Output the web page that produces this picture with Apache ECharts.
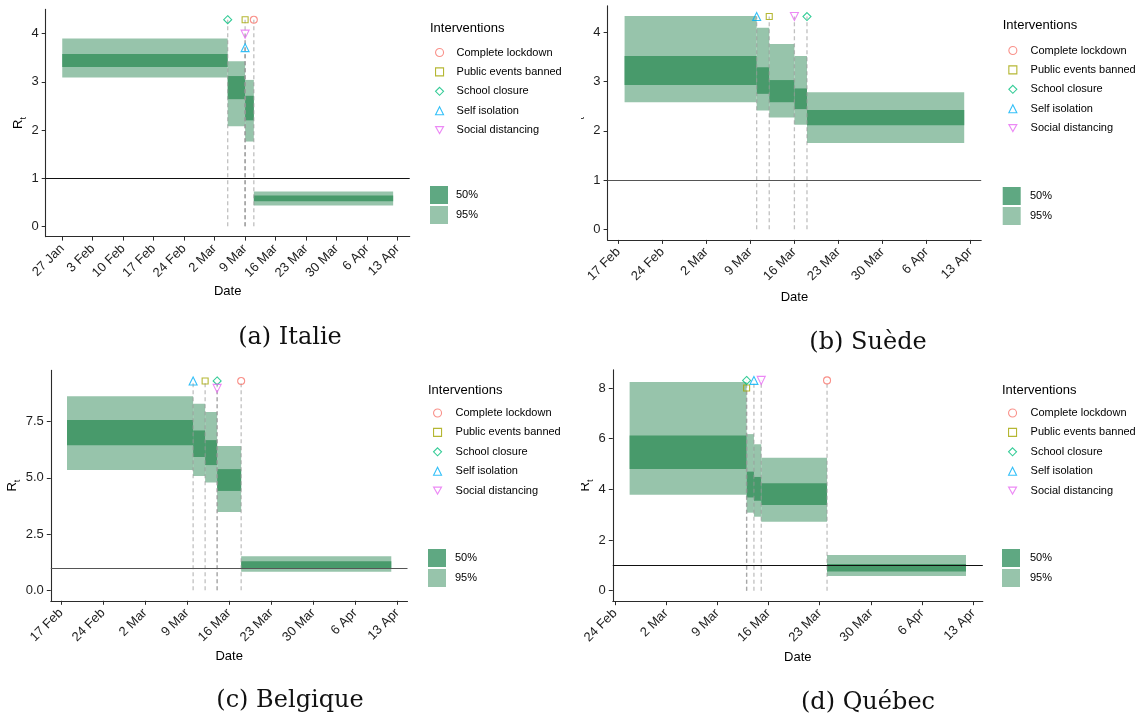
<!DOCTYPE html>
<html><head><meta charset="utf-8">
<script src="https://cdn.jsdelivr.net/npm/echarts@6/dist/echarts.min.js"></script>
<style>html,body{margin:0;padding:0;background:#fff}#c{width:1146px;height:725px}</style>
</head><body><div id="c"></div>
<script>
// ---------- DATA ----------
const interventionNames = ['Complete lockdown','Public events banned','School closure','Self isolation','Social distancing'];
const weekTickDates = ['2020-01-27','2020-02-03','2020-02-10','2020-02-17','2020-02-24','2020-03-02','2020-03-09','2020-03-16','2020-03-23','2020-03-30','2020-04-06','2020-04-13'];
const weekTickLabels = ['27 Jan','3 Feb','10 Feb','17 Feb','24 Feb','2 Mar','9 Mar','16 Mar','23 Mar','30 Mar','6 Apr','13 Apr'];

// Italie
const italyBreaks = ['2020-01-27','2020-03-05','2020-03-09','2020-03-11','2020-04-12'];
const italyLo95 = [3.09, 2.08, 1.76, 0.43];
const italyHi95 = [3.90, 3.43, 3.04, 0.72];
const italyLo50 = [3.31, 2.64, 2.20, 0.52];
const italyHi50 = [3.58, 3.12, 2.71, 0.64];
const italyEvents = ['School closure','Public events banned','Social distancing','Self isolation','Complete lockdown'];
const italyEventDates = ['2020-03-05','2020-03-09','2020-03-09','2020-03-09','2020-03-11'];
const italyEventY = [4.29, 4.29, 3.99, 3.71, 4.29];
const italyYTicks = [0, 1, 2, 3, 4];

// Suède
const swedenBreaks = ['2020-02-18','2020-03-10','2020-03-12','2020-03-16','2020-03-18','2020-04-12'];
const swedenLo95 = [2.58, 2.41, 2.27, 2.12, 1.75];
const swedenHi95 = [4.33, 4.09, 3.76, 3.52, 2.78];
const swedenLo50 = [2.93, 2.75, 2.58, 2.44, 2.11];
const swedenHi50 = [3.52, 3.29, 3.03, 2.86, 2.42];
const swedenEvents = ['Self isolation','Public events banned','Social distancing','School closure'];
const swedenEventDates = ['2020-03-10','2020-03-12','2020-03-16','2020-03-18'];
const swedenEventY = [4.32, 4.32, 4.32, 4.32];
const swedenYTicks = [0, 1, 2, 3, 4];

// Belgique
const belgiumBreaks = ['2020-02-18','2020-03-10','2020-03-12','2020-03-14','2020-03-18','2020-04-12'];
const belgiumLo95 = [5.35, 5.08, 4.79, 3.48, 0.83];
const belgiumHi95 = [8.63, 8.30, 7.93, 6.42, 1.51];
const belgiumLo50 = [6.45, 5.93, 5.57, 4.42, 0.95];
const belgiumHi50 = [7.57, 7.11, 6.68, 5.39, 1.29];
const belgiumEvents = ['Self isolation','Public events banned','School closure','Social distancing','Complete lockdown'];
const belgiumEventDates = ['2020-03-10','2020-03-12','2020-03-14','2020-03-14','2020-03-18'];
const belgiumEventY = [9.31, 9.31, 9.31, 8.98, 9.31];
const belgiumYTicks = [0, 2.5, 5, 7.5];

// Québec
const quebecBreaks = ['2020-02-26','2020-03-13','2020-03-14','2020-03-15','2020-03-24','2020-04-12'];
const quebecLo95 = [3.79, 3.08, 2.92, 2.72, 0.58];
const quebecHi95 = [8.24, 6.18, 5.78, 5.25, 1.41];
const quebecLo50 = [4.80, 3.68, 3.55, 3.38, 0.76];
const quebecHi50 = [6.13, 4.70, 4.49, 4.24, 1.05];
const quebecEvents = ['School closure','Public events banned','Self isolation','Social distancing','Complete lockdown'];
const quebecEventDates = ['2020-03-13','2020-03-13','2020-03-14','2020-03-15','2020-03-24'];
const quebecEventY = [8.30, 8.00, 8.30, 8.30, 8.30];
const quebecYTicks = [0, 2, 4, 6, 8];

const captions = ['(a) Italie', '(b) Suède', '(c) Belgique', '(d) Québec'];

// ---------- STYLE / LAYOUT ----------
const FONT = '"Liberation Sans", Arial, sans-serif';
const SERIF = '"DejaVu Serif", "Liberation Serif", serif';
const intColors = {'Complete lockdown':'#F8766D','Public events banned':'#A3A500','School closure':'#00BF7D','Self isolation':'#00B0F6','Social distancing':'#E76BF3'};
const intSymbols = {'Complete lockdown':'circle','Public events banned':'rect','School closure':'diamond','Self isolation':'triangle','Social distancing':'triangle'};
const intRotate = {'Complete lockdown':0,'Public events banned':0,'School closure':0,'Self isolation':0,'Social distancing':180};
const intSize = {'Complete lockdown':7,'Public events banned':6,'School closure':8,'Self isolation':8,'Social distancing':8};
const intLegendIcon = {'Social distancing':'path://M0,0L10,0L5,8.66Z'};
const C95 = '#97c4ab', C50 = '#489a6b', C50KEY = '#5fa882';

const DAY0 = Date.UTC(2020, 0, 1);
function dayNum(s){ const p = s.split('-').map(Number); return (Date.UTC(p[0], p[1]-1, p[2]) - DAY0) / 86400000; }

const panels = [
  {breaks: italyBreaks, lo95: italyLo95, hi95: italyHi95, lo50: italyLo50, hi50: italyHi50, ev: italyEvents, evd: italyEventDates, evy: italyEventY, yt: italyYTicks,
   grid: {left: 45.7, top: 9.4, width: 364, height: 227.2}, x: [22.2, 105.8], y: [-0.2145, 4.5045], yGap: 18, xGap: 48, hline: '#111',
   leg: {ix: 435, itx: 456, y: 45.5, tx: 430, title: 22, kx: 430, key: 186}, cap: [290, 338]},
  {breaks: swedenBreaks, lo95: swedenLo95, hi95: swedenHi95, lo50: swedenLo50, hi50: swedenHi50, ev: swedenEvents, evd: swedenEventDates, evy: swedenEventY, yt: swedenYTicks,
   grid: {left: 607.6, top: 5.9, width: 373.6, height: 234}, x: [45.3, 104.7], y: [-0.216, 4.536], yGap: 22, xGap: 51, hline: '#555',
   leg: {ix: 1008.3, itx: 1030, y: 43.5, tx: 1002.7, title: 19, kx: 1002.7, key: 187}, cap: [868, 343],
   cover: {x: 566, y: 60, width: 15, height: 130}},
  {breaks: belgiumBreaks, lo95: belgiumLo95, hi95: belgiumHi95, lo50: belgiumLo50, hi50: belgiumHi50, ev: belgiumEvents, evd: belgiumEventDates, evy: belgiumEventY, yt: belgiumYTicks,
   grid: {left: 50.8, top: 370.4, width: 356.7, height: 230.4}, x: [45.3, 104.7], y: [-0.466, 9.78], yGap: 29, xGap: 49, hline: '#555',
   leg: {ix: 433, itx: 455, y: 406, tx: 428, title: 384, kx: 428, key: 549}, cap: [290, 701]},
  {breaks: quebecBreaks, lo95: quebecLo95, hi95: quebecHi95, lo50: quebecLo50, hi50: quebecHi50, ev: quebecEvents, evd: quebecEventDates, evy: quebecEventY, yt: quebecYTicks,
   grid: {left: 612.8, top: 369.9, width: 370, height: 231.3}, x: [53.7, 104.3], y: [-0.415, 8.715], yGap: 16, xGap: 50, hline: '#111',
   leg: {ix: 1008, itx: 1030, y: 406, tx: 1002, title: 384, kx: 1002, key: 549}, cap: [868, 703],
   cover: {x: 566, y: 420, width: 15, height: 130}}
];

const tickDays = weekTickDates.map(dayNum);
function xLabel(v){ const i = tickDays.indexOf(Math.round(v)); return i >= 0 ? weekTickLabels[i] : ''; }

function bandRender(color){
  return function(params, api){
    const p1 = api.coord([api.value(0), api.value(3)]);
    const p2 = api.coord([api.value(1), api.value(2)]);
    return {type: 'rect', shape: {x: p1[0], y: p1[1], width: p2[0]-p1[0], height: p2[1]-p1[1]}, style: {fill: color}};
  };
}
function vlineRender(params, api){
  const a = api.coord([api.value(0), 0]);
  const b = api.coord([api.value(0), api.value(1)]);
  return {type: 'line', shape: {x1: a[0], y1: a[1], x2: b[0], y2: b[1]},
          style: {stroke: 'rgba(150,150,150,0.6)', lineWidth: 1.3, lineDash: [4, 3]}};
}

const grids = [], xAxes = [], yAxes = [], series = [], legends = [], titles = [], graphics = [];
panels.forEach((P, i) => {
  grids.push(Object.assign({outerBoundsMode: 'none', containLabel: false}, P.grid));
  const xt = tickDays.filter(d => d >= P.x[0] && d <= P.x[1]);
  xAxes.push({type: 'value', gridIndex: i, min: P.x[0], max: P.x[1],
    axisLine: {show: true, onZero: false, lineStyle: {color: '#2b2b2b', width: 1.1}},
    axisTick: {show: true, customValues: xt, length: 4, lineStyle: {color: '#2b2b2b', width: 1}},
    axisLabel: {show: true, customValues: xt, formatter: xLabel, rotate: 45, fontSize: 13, color: '#1e1e1e', fontFamily: FONT, margin: 10},
    splitLine: {show: false},
    name: 'Date', nameLocation: 'middle', nameGap: P.xGap,
    nameTextStyle: {fontSize: 13, color: '#000', fontFamily: FONT}});
  yAxes.push({type: 'value', gridIndex: i, min: P.y[0], max: P.y[1],
    axisLine: {show: true, onZero: false, lineStyle: {color: '#2b2b2b', width: 1.1}},
    axisTick: {show: true, customValues: P.yt, length: 4, lineStyle: {color: '#2b2b2b', width: 1}},
    axisLabel: {show: true, customValues: P.yt, fontSize: 13, color: '#1e1e1e', fontFamily: FONT, margin: 7,
      formatter: v => (i === 2 ? Number(v).toFixed(1) : String(Math.round(v)))},
    splitLine: {show: false},
    name: '{r|R}{t|t}', nameLocation: 'middle', nameGap: P.yGap,
    nameTextStyle: {fontFamily: FONT, color: '#000',
      rich: {r: {fontSize: 13, fontFamily: FONT, color: '#000', lineHeight: 18, verticalAlign: 'middle'},
             t: {fontSize: 9, fontFamily: FONT, color: '#000', lineHeight: 18, verticalAlign: 'bottom'}}}});

  const days = P.breaks.map(dayNum);
  const d95 = [], d50 = [];
  for (let k = 0; k < days.length - 1; k++) {
    d95.push([days[k], days[k+1], P.lo95[k], P.hi95[k]]);
    d50.push([days[k], days[k+1], P.lo50[k], P.hi50[k]]);
  }
  series.push({type: 'custom', name: '95%', xAxisIndex: i, yAxisIndex: i, z: 1, silent: true,
    itemStyle: {color: C95}, renderItem: bandRender(C95), encode: {x: [0, 1], y: [2, 3]}, data: d95});
  series.push({type: 'custom', name: '50%', xAxisIndex: i, yAxisIndex: i, z: 2, silent: true,
    itemStyle: {color: C50}, renderItem: bandRender(C50), encode: {x: [0, 1], y: [2, 3]}, data: d50,
    markLine: {silent: true, symbol: 'none', z: 5, label: {show: false}, animation: false,
      lineStyle: {color: P.hline, width: 1.1, type: 'solid'}, emphasis: {disabled: true},
      data: [{yAxis: 1}]}});
  const evDays = P.evd.map(dayNum);
  series.push({type: 'custom', name: 'vlines', xAxisIndex: i, yAxisIndex: i, z: 3, silent: true,
    renderItem: vlineRender, encode: {x: 0, y: 1}, data: evDays.map((d, k) => [d, P.evy[k]])});
  interventionNames.forEach(nm => {
    const pts = [];
    P.ev.forEach((e, k) => { if (e === nm) pts.push([evDays[k], P.evy[k]]); });
    series.push({type: 'scatter', name: nm, xAxisIndex: i, yAxisIndex: i, z: 6, silent: true,
      symbol: intSymbols[nm], symbolRotate: intRotate[nm], symbolSize: intSize[nm],
      itemStyle: {color: 'rgba(0,0,0,0)', borderColor: intColors[nm], borderWidth: 1.1},
      data: pts});
  });

  titles.push({text: 'Interventions', left: P.leg.tx, top: P.leg.title, padding: 0,
    textStyle: {fontSize: 13, fontWeight: 'normal', color: '#000', fontFamily: FONT}});
  legends.push({orient: 'vertical', left: P.leg.ix, top: P.leg.y, padding: 0, itemGap: 5.4,
    itemWidth: 8, itemHeight: 8, selectedMode: false,
    textStyle: {fontSize: 11, color: '#000', fontFamily: FONT, lineHeight: 14, padding: [0, 0, 0, P.leg.itx - P.leg.ix - 13]},
    data: interventionNames.map(nm => {
      const item = {name: nm, itemStyle: {color: 'rgba(0,0,0,0)', borderColor: intColors[nm], borderWidth: 1.1}};
      if (intLegendIcon[nm]) item.icon = intLegendIcon[nm];
      return item;
    })});
  legends.push({orient: 'vertical', left: P.leg.kx, top: P.leg.key, padding: 0, itemGap: 2,
    itemWidth: 18, itemHeight: 18, icon: 'rect', selectedMode: false,
    textStyle: {fontSize: 11, color: '#000', fontFamily: FONT, padding: [0, 0, 0, P.leg.itx - P.leg.kx - 23]},
    data: [{name: '50%', itemStyle: {color: C50KEY}}, {name: '95%', itemStyle: {color: C95}}]});

  graphics.push({type: 'text', x: P.cap[0], y: P.cap[1], z: 10,
    style: {text: captions[i], font: '24px ' + SERIF, fill: '#111', textAlign: 'center', textVerticalAlign: 'middle'}});
  if (P.cover) {
    graphics.push({type: 'rect', z: 100, silent: true, shape: P.cover, style: {fill: '#fff'}});
  }
});

const chart = echarts.init(document.getElementById('c'), null, {renderer: 'canvas'});
chart.setOption({
  animation: false,
  backgroundColor: '#fff',
  textStyle: {fontFamily: FONT},
  title: titles,
  legend: legends,
  grid: grids,
  xAxis: xAxes,
  yAxis: yAxes,
  series: series,
  graphic: {elements: graphics}
});
</script>
</body></html>
